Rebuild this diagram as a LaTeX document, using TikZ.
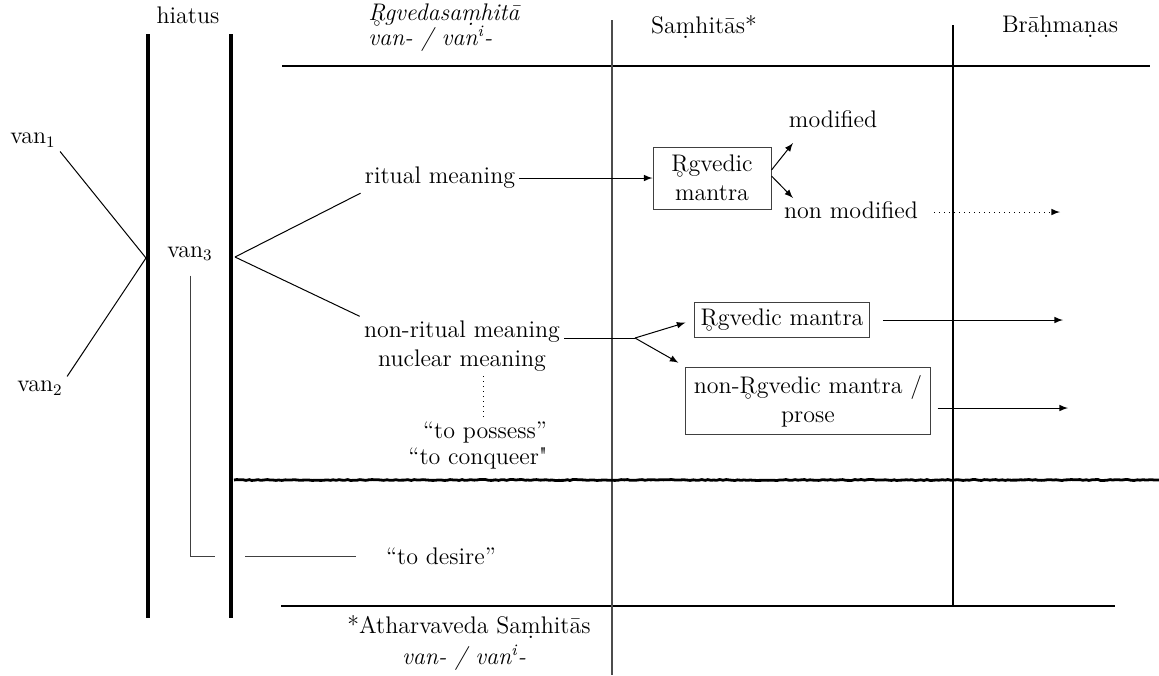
\documentclass[tikz,border=0pt]{standalone}
\usetikzlibrary{positioning, decorations.pathmorphing}
\newcommand{\Rring}{\leavevmode\setbox0\hbox{R}\rlap{\hbox to\wd0{\hss\raisebox{-.6ex}{$\scriptscriptstyle\circ$}\hss}}R}
\newcommand{\dotb}[1]{\leavevmode\setbox0\hbox{#1}\rlap{\hbox to\wd0{\hss\raisebox{-.5ex}{.}\hss}}#1}
\begin{document}
\begin{tikzpicture}[>=latex, x=0.5pt, y=-0.5pt,
  txt/.style={inner sep=2pt, font=\fontsize{12}{14.5}\selectfont},
  hd/.style={inner sep=2pt, font=\fontsize{12}{14}\selectfont\itshape},
  mbox/.style={draw=black!75, line width=.5pt, align=center, font=\fontsize{12}{14.5}\selectfont},
  wall/.style={line width=1.6pt},
  rule/.style={line width=.6pt},
  conn/.style={line width=.5pt}]
\useasboundingbox (0,0) rectangle (1159,675);
% frame of the table
\foreach \x in {148,231}
{
    \draw[wall](\x,34)--(\x,618);
}
\draw[rule](282,66)--(1150,66);
\draw[rule](281,606)--(1115,606);
\draw[rule, black!70](612,20)--(612,675);
\draw[line width=.9pt](953,25)--(953,605);
\draw[line width=1.4pt, decorate, decoration={random steps, segment length=1.5pt, amplitude=.25pt}](234,480)--(1159,480);
% headings
\node[txt] (hiat) at (188,15) {hiatus};
\node[hd, anchor=west] (rvh) at (364,15) {\Rring gvedasa\dotb{m}hit\={a}};
\node[hd, anchor=west] (rvv) at (364,39) {van- / van\textsuperscript{i}-};
\node[txt] (sam) at (704,27) {Sa\dotb{m}hit\={a}s*};
\node[txt] (bra) at (1060,27) {Br\={a}\dotb{h}ma\dotb{n}as};
\node[txt] (ath) at (469,627) {*Atharvaveda Sa\dotb{m}hit\={a}s};
\node[hd] (athv) at (464,658) {van- / van\textsuperscript{i}-};
% roots
\node[txt] (v1) at (33,140) {van\textsubscript{1}};
\node[txt] (v2) at (40,388) {van\textsubscript{2}};
\node[txt] (v3) at (190,254) {van\textsubscript{3}};
\coordinate (jn) at (146,258);
\coordinate (fan) at (235,257);
\draw[conn](v1.south east)--(jn);
\draw[conn](v2.north east)--(jn);
% meanings
\node[txt] (rit) at (440,178) {ritual meaning};
\node[txt, align=center] (nrit) at (462,346) {non-ritual meaning\\nuclear meaning};
\draw[conn](fan)--(rit.south west);
\draw[conn](fan)--(nrit.north west);
\node[txt] (poss) at (485,432) {“to possess”};
\node[txt] (conq) at (478,458) {“to conqueer\textquotedbl};
\draw[conn, dotted]([xshift=-1pt]poss.north)--([xshift=-1pt]poss.north |- nrit.south);
\node[txt] (des) at (441,556) {“to desire”};
\coordinate (dsL) at (215,556);
\coordinate (dsR) at (245,556);
\draw[conn, black!75]([yshift=-5pt]v3.south)|-(dsL);
\draw[conn, black!75](dsR)--([xshift=-13pt]des.west);
% ritual branch
\node[mbox, minimum width=59pt, minimum height=31pt] (rgvA) at (712,178) {\Rring gvedic\\mantra};
\draw[conn,->](rit)--(rgvA);
\node[txt] (mod) at (833,119) {modified};
\node[txt] (nmod) at (851,210) {non modified};
\coordinate (modE) at (793,143);
\coordinate (nmodE) at (793,198);
\coordinate (nmodF) at (1060,212);
\draw[conn,->]([yshift=4pt]rgvA.east)--(modE);
\draw[conn,->]([yshift=1pt]rgvA.east)--(nmodE);
\draw[conn,->,dotted,shorten <=6pt]([yshift=-1pt]nmod.east)--(nmodF);
% non-ritual branch
\coordinate (fork) at (635,338);
\draw[conn](nrit.east |- fork)--(fork);
\node[mbox, inner sep=3pt] (rgvB) at (782,320) {\Rring gvedic mantra};
\node[mbox, inner sep=4pt] (nrgv) at (808,401) {non-\Rring gvedic mantra /\\prose};
\draw[conn,->,shorten >=4.5pt](fork)--(rgvB.west);
\draw[conn,->,shorten >=4pt](fork)--(nrgv.north west);
\coordinate (rgvBE) at (1063,320);
\coordinate (nrgvE) at (1068,408);
\draw[conn,->,shorten <=6.5pt](rgvB.east)--(rgvBE);
\draw[conn,->,shorten <=3.5pt]([yshift=-3.5pt]nrgv.east)--(nrgvE);
\end{tikzpicture}
\end{document}
